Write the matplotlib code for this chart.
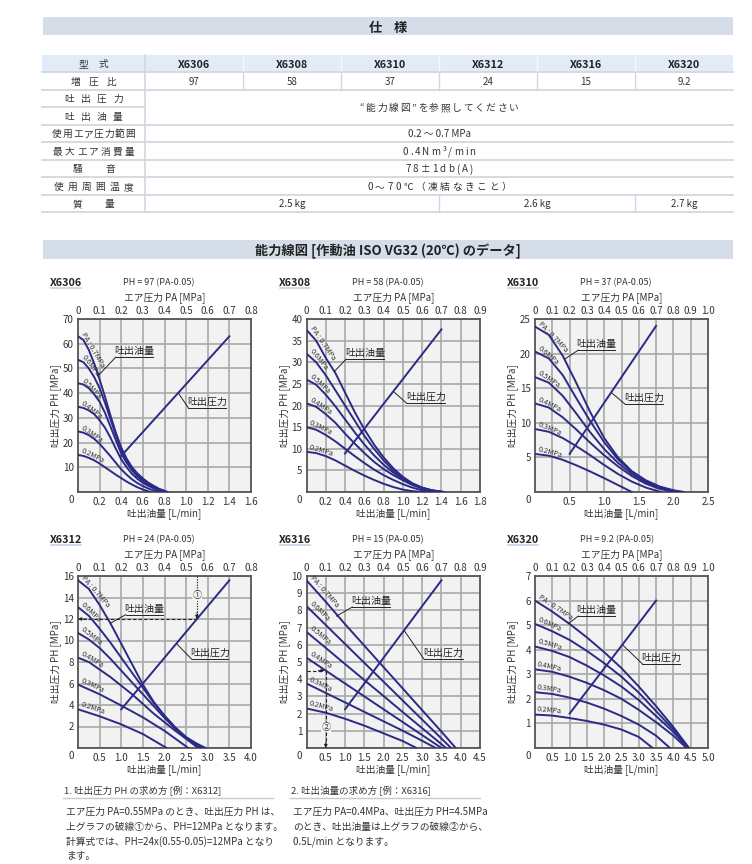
import numpy as np
import matplotlib
matplotlib.use("Agg")
import matplotlib.pyplot as plt
from matplotlib.patches import Rectangle

plt.rcParams['font.family'] = ['Noto Sans CJK JP', 'DejaVu Sans']
plt.rcParams['axes.unicode_minus'] = False

# ---------------------------------------------------------------- data
models = ["X6306", "X6308", "X6310", "X6312", "X6316", "X6320"]
boost_ratios = ["97", "58", "37", "24", "15", "9.2"]
masses = ["2.5 kg", "2.6 kg", "2.7 kg"]
pa_levels = [0.7, 0.6, 0.5, 0.4, 0.3, 0.2]
pa_labels = ["PA : 0.7MPa", "0.6MPa", "0.5MPa", "0.4MPa", "0.3MPa", "0.2MPa"]
line_pa = [0.2, 0.7]

# X6306
x6306_q = {
    0.7: [0, .05, .1, .15, .2, .25, .3, .35, .4, .45, .5, .55, .6, .65, .7, .75, .83],
    0.6: [0, .05, .1, .15, .2, .25, .3, .35, .4, .45, .5, .55, .6, .65, .7, .75, .82],
    0.5: [0, .05, .1, .15, .2, .25, .3, .35, .4, .45, .5, .55, .6, .65, .7, .75, .81],
    0.4: [0, .05, .1, .15, .2, .25, .3, .35, .4, .45, .5, .55, .6, .65, .7, .75, .80],
    0.3: [0, .05, .1, .15, .2, .25, .3, .35, .4, .45, .5, .55, .6, .65, .7, .76],
    0.2: [0, .05, .1, .15, .2, .25, .3, .35, .4, .45, .5, .55, .6, .67],
}
x6306_ph = {
    0.7: [63, 61.5, 57.5, 52, 45.5, 38.5, 31, 24, 18, 13.5, 10, 7.5, 5.5, 3.8, 2.5, 1.3, 0],
    0.6: [53.5, 52.5, 50, 46.5, 42, 36, 29.5, 23, 17, 12.8, 9.5, 7, 5, 3.5, 2.2, 1.1, 0],
    0.5: [44, 43.5, 42, 39.5, 36.5, 32, 26.5, 21, 15.5, 11.8, 8.7, 6.3, 4.5, 3.1, 1.9, 0.9, 0],
    0.4: [34.5, 34, 33, 31.5, 29, 26, 22, 17.5, 13.2, 10, 7.3, 5.3, 3.7, 2.5, 1.5, 0.7, 0],
    0.3: [24.5, 24, 23, 21.5, 19.5, 17, 14.5, 11.8, 9.2, 7, 5.1, 3.6, 2.4, 1.4, 0.6, 0],
    0.2: [15, 14.6, 13.8, 12.8, 11.5, 10, 8.5, 7, 5.6, 4.2, 3, 1.9, 1, 0],
}
x6306_line_ph = [14.6, 63.0]

# X6308
x6308_q = {
    0.7: [0, .1, .2, .3, .4, .5, .6, .7, .8, .9, 1.0, 1.1, 1.2, 1.3, 1.43],
    0.6: [0, .1, .2, .3, .4, .5, .6, .7, .8, .9, 1.0, 1.1, 1.2, 1.3, 1.42],
    0.5: [0, .1, .2, .3, .4, .5, .6, .7, .8, .9, 1.0, 1.1, 1.2, 1.3, 1.41],
    0.4: [0, .1, .2, .3, .4, .5, .6, .7, .8, .9, 1.0, 1.1, 1.2, 1.3, 1.40],
    0.3: [0, .1, .2, .3, .4, .5, .6, .7, .8, .9, 1.0, 1.1, 1.2, 1.33],
    0.2: [0, .1, .2, .3, .4, .5, .6, .7, .8, .9, 1.0, 1.1, 1.22],
}
x6308_ph = {
    0.7: [37.5, 35, 31, 27.5, 23, 18.5, 14.5, 11, 8, 5.5, 3.5, 2, 1, 0.4, 0],
    0.6: [32, 30, 27, 23.5, 20, 16.5, 13, 10, 7.3, 5, 3.2, 1.9, 1, 0.4, 0],
    0.5: [26, 24.8, 22.5, 19.8, 16.8, 13.8, 11, 8.5, 6.3, 4.5, 3, 1.8, 0.9, 0.35, 0],
    0.4: [20.5, 19.7, 18, 16, 13.5, 11.2, 9, 7, 5.3, 3.9, 2.7, 1.6, 0.8, 0.3, 0],
    0.3: [15, 14.4, 13.2, 11.7, 10, 8.3, 6.7, 5.2, 3.9, 2.8, 1.8, 1, 0.4, 0],
    0.2: [9.3, 9, 8.3, 7.3, 6.1, 4.9, 3.8, 2.8, 1.9, 1.15, 0.55, 0.2, 0],
}
x6308_line_ph = [8.9, 37.6]

# X6310
x6310_q = {
    0.7: [0, .2, .4, .6, .8, 1.0, 1.2, 1.4, 1.6, 1.8, 2.0, 2.15],
    0.6: [0, .2, .4, .6, .8, 1.0, 1.2, 1.4, 1.6, 1.8, 2.0, 2.12],
    0.5: [0, .2, .4, .6, .8, 1.0, 1.2, 1.4, 1.6, 1.8, 2.0, 2.08],
    0.4: [0, .2, .4, .6, .8, 1.0, 1.2, 1.4, 1.6, 1.8, 2.0],
    0.3: [0, .2, .4, .6, .8, 1.0, 1.2, 1.4, 1.6, 1.82],
    0.2: [0, .2, .4, .6, .8, 1.0, 1.2, 1.4],
}
x6310_ph = {
    0.7: [23.9, 22.7, 19.7, 15.7, 11.5, 7.8, 5, 3, 1.7, 0.8, 0.25, 0],
    0.6: [20.3, 19.3, 16.9, 13.5, 10.2, 7.2, 4.7, 2.9, 1.6, 0.7, 0.2, 0],
    0.5: [16.6, 15.8, 13.9, 11.3, 8.6, 6.2, 4.2, 2.6, 1.4, 0.6, 0.15, 0],
    0.4: [12.8, 12.2, 10.8, 9, 7.1, 5.3, 3.7, 2.3, 1.2, 0.45, 0],
    0.3: [9.1, 8.7, 7.8, 6.6, 5.3, 3.9, 2.6, 1.5, 0.65, 0],
    0.2: [5.5, 5.25, 4.65, 3.85, 2.95, 2.0, 1.0, 0],
}
x6310_line_ph = [5.5, 24.0]

# X6312
x6312_q = {
    0.7: [0, .25, .5, .75, 1, 1.25, 1.5, 1.75, 2, 2.25, 2.5, 2.75, 2.95],
    0.6: [0, .25, .5, .75, 1, 1.25, 1.5, 1.75, 2, 2.25, 2.5, 2.75, 2.9],
    0.5: [0, .25, .5, .75, 1, 1.25, 1.5, 1.75, 2, 2.25, 2.5, 2.7, 2.85],
    0.4: [0, .25, .5, .75, 1, 1.25, 1.5, 1.75, 2, 2.25, 2.5, 2.78],
    0.3: [0, .5, 1, 1.5, 2, 2.55],
    0.2: [0, .5, 1, 1.5, 2.05],
}
x6312_ph = {
    0.7: [15.6, 14.8, 13.3, 11.6, 9.7, 7.8, 5.9, 4.3, 3, 1.9, 1.0, 0.4, 0],
    0.6: [13.1, 12.3, 11.1, 9.8, 8.4, 7, 5.6, 4.2, 3, 1.9, 1, 0.35, 0],
    0.5: [10.7, 10.1, 9.3, 8.3, 7.2, 6.1, 5, 3.9, 2.8, 1.8, 0.95, 0.35, 0],
    0.4: [8.4, 8, 7.3, 6.6, 5.8, 5, 4.1, 3.2, 2.4, 1.6, 0.85, 0],
    0.3: [5.9, 5.0, 3.95, 2.85, 1.6, 0],
    0.2: [3.6, 2.95, 2.2, 1.3, 0],
}
x6312_line_ph = [3.6, 15.6]

# X6316
x6316_q = {
    0.7: [0, .5, 1, 1.5, 2, 2.5, 3, 3.5, 3.87],
    0.6: [0, .5, 1, 1.5, 2, 2.5, 3, 3.5, 3.75],
    0.5: [0, .5, 1, 1.5, 2, 2.5, 3, 3.62],
    0.4: [0, .5, 1, 1.5, 2, 2.5, 3, 3.5],
    0.3: [0, .5, 1, 1.5, 2, 2.5, 3, 3.35],
    0.2: [0, .5, 1, 1.5, 2, 2.5, 2.85],
}
x6316_ph = {
    0.7: [9.75, 8.5, 7.2, 5.95, 4.7, 3.45, 2.2, 0.95, 0],
    0.6: [8.25, 7.15, 6.05, 4.95, 3.85, 2.75, 1.65, 0.55, 0],
    0.5: [6.75, 5.82, 4.88, 3.95, 3.02, 2.08, 1.15, 0],
    0.4: [5.25, 4.5, 3.75, 3.0, 2.25, 1.5, 0.75, 0],
    0.3: [3.75, 3.2, 2.65, 2.1, 1.55, 1.0, 0.42, 0],
    0.2: [2.3, 2.05, 1.7, 1.3, 0.85, 0.4, 0],
}
x6316_line_ph = [2.25, 9.75]

# X6320
x6320_q = {
    0.7: [0, .5, 1, 1.5, 2, 2.5, 3, 3.5, 4, 4.45],
    0.6: [0, .5, 1, 1.5, 2, 2.5, 3, 3.5, 4, 4.45],
    0.5: [0, .5, 1, 1.5, 2, 2.5, 3, 3.5, 4, 4.42],
    0.4: [0, .5, 1, 1.5, 2, 2.5, 3, 3.5, 4, 4.38],
    0.3: [0, .5, 1, 1.5, 2, 2.5, 3, 3.5, 3.9],
    0.2: [0, .5, 1, 1.5, 2, 2.5, 3, 3.4],
}
x6320_ph = {
    0.7: [6, 5.55, 5.05, 4.5, 3.9, 3.25, 2.5, 1.7, 0.85, 0],
    0.6: [5.05, 4.75, 4.4, 3.95, 3.45, 2.9, 2.25, 1.5, 0.75, 0],
    0.5: [4.13, 3.95, 3.7, 3.35, 2.95, 2.5, 1.95, 1.3, 0.65, 0],
    0.4: [3.2, 3.1, 2.9, 2.65, 2.35, 2.0, 1.55, 1.05, 0.5, 0],
    0.3: [2.27, 2.2, 2.05, 1.85, 1.6, 1.3, 0.95, 0.5, 0],
    0.2: [1.36, 1.32, 1.22, 1.1, 0.95, 0.75, 0.45, 0],
}
x6320_line_ph = [1.4, 6.0]

# worked examples
ex1_pa, ex1_ph = 0.55, 12.0     # X6312
ex2_pa, ex2_ph, ex2_q = 0.4, 4.5, 0.5   # X6316

# ---------------------------------------------------------------- figure
W, H = 752, 864
fig = plt.figure(figsize=(W / 100, H / 100), dpi=100)
fig.patch.set_facecolor('white')
bg = fig.add_axes([0, 0, 1, 1])
bg.set_xlim(0, W)
bg.set_ylim(H, 0)
bg.axis('off')
renderer = fig.canvas.get_renderer()

TXT = '#333333'
DARK = '#222222'
NAVY = '#2b2b86'
GRID = '#a8a8a8'
BAND = '#d5dde8'
HEAD = '#e2ecf6'
RULE = '#d6d6e2'


def spaced(x, y, s, gap, size=7.0, color=TXT, weight='normal'):
    arts, widths = [], []
    for ch in s:
        a = bg.text(0, y, ch, fontsize=size, color=color, weight=weight,
                    ha='left', va='center_baseline')
        arts.append(a)
        if ch == ' ':
            widths.append(size * 1.389 * 0.25)
        else:
            widths.append(a.get_window_extent(renderer).width)
    total = sum(widths) + gap * (len(s) - 1)
    cx = x - total / 2
    for a, w in zip(arts, widths):
        a.set_x(cx)
        cx += w + gap


# ---- header band 1
bg.add_patch(Rectangle((43, 17), 690, 18, color=BAND, lw=0))
spaced(388, 26.5, '仕様', 12, size=9.5, color=DARK, weight='bold')

# ---- spec table
XL, XLAB, XR = 42, 145, 733
CW = (XR - XLAB) / 6
rows_y = [55, 72, 89.5, 107, 124.5, 142, 159.5, 177, 194.5, 212]
bg.add_patch(Rectangle((XL, rows_y[0]), XR - XL, rows_y[1] - rows_y[0], color=HEAD, lw=0))
for i, yy in enumerate(rows_y[1:], start=1):
    if i == 3:
        bg.plot([XL, XLAB], [yy, yy], color=RULE, lw=1.3)
    else:
        bg.plot([XL, XR], [yy, yy], color=RULE, lw=1.3)
bg.plot([XLAB, XLAB], [rows_y[0], rows_y[-1]], color=RULE, lw=1.2)
for k in range(1, 6):
    bg.plot([XLAB + k * CW] * 2, [rows_y[0], rows_y[1]], color='#f4f7fb', lw=1.0)
    bg.plot([XLAB + k * CW] * 2, [rows_y[1], rows_y[2]], color=RULE, lw=1.0)
for k in (3, 5):
    bg.plot([XLAB + k * CW] * 2, [rows_y[8], rows_y[9]], color=RULE, lw=1.0)

lab_cx = (XL + XLAB) / 2
row_labels = [("型式", 10), ("増圧比", 8), ("吐出圧力", 6.5), ("吐出油量", 6.5),
              ("使用エア圧力範囲", 0.8), ("最大エア消費量", 2.2), ("騒音", 23),
              ("使用周囲温度", 4.3), ("質量", 22)]
for i, (lab, gap) in enumerate(row_labels):
    yc = (rows_y[i] + rows_y[i + 1]) / 2
    spaced(lab_cx, yc, lab, gap, size=7)

for k, (m, r) in enumerate(zip(models, boost_ratios)):
    cx = XLAB + (k + 0.5) * CW
    bg.text(cx, (rows_y[0] + rows_y[1]) / 2, m, ha='center', va='center_baseline',
            fontsize=7.8, weight='bold', color=DARK)
    bg.text(cx, (rows_y[1] + rows_y[2]) / 2, r, ha='center', va='center_baseline',
            fontsize=7, color=TXT)

val_cx = (XLAB + XR) / 2
spaced(val_cx, rows_y[3], '“能力線図”を参照してください', 1.6, size=7)
bg.text(val_cx, (rows_y[4] + rows_y[5]) / 2, '0.2 ～ 0.7 MPa', ha='center',
        va='center_baseline', fontsize=7, color=TXT)
spaced(val_cx, (rows_y[5] + rows_y[6]) / 2, '0.4Nm³/min', 2.0, size=7)
spaced(val_cx, (rows_y[6] + rows_y[7]) / 2, '78±1db(A)', 2.2, size=7)
spaced(val_cx, (rows_y[7] + rows_y[8]) / 2, '0～70℃（凍結なきこと）', 2.5, size=7)
mass_centers = [(XLAB + XLAB + 3 * CW) / 2, (XLAB + 3 * CW + XLAB + 5 * CW) / 2,
                (XLAB + 5 * CW + XR) / 2]
for cx, m in zip(mass_centers, masses):
    bg.text(cx, (rows_y[8] + rows_y[9]) / 2, m, ha='center', va='center_baseline',
            fontsize=7, color=TXT)

# ---- header band 2
bg.add_patch(Rectangle((43, 240), 690, 19, color=BAND, lw=0))
bg.text(388, 249.5, '能力線図 [作動油 ISO VG32 (20℃) のデータ]', ha='center',
        va='center_baseline', fontsize=9.5, weight='bold', color=DARK)


# ---------------------------------------------------------------- plots
def fig_rect(l, t, r, b):
    return [l / W, 1 - b / H, (r - l) / W, (b - t) / H]


def draw_plot(name, ratio, rect, qmax, pamax, ymax, ystep, qstep,
              cq, cph, lph, call_flow, call_pres):
    l, t, r, b = rect
    ax = fig.add_axes(fig_rect(l, t, r, b))
    ax.set_facecolor('#f2f2f2')
    ax.set_xlim(0, qmax)
    ax.set_ylim(0, ymax)
    yt = np.round(np.arange(0, ymax + 1e-9, ystep), 3)
    ax.set_yticks(yt)
    ax.set_yticklabels(['' if v == 0 else f'{v:g}' for v in yt])
    qt = np.round(np.arange(qstep, qmax + 1e-9, qstep), 3)
    ax.set_xticks(qt)
    ax.set_xticklabels([f'{v:.1f}' for v in qt])
    ax.grid(axis='y', color=GRID, lw=1.2)
    ax.set_axisbelow(True)
    for k in range(1, int(round(pamax / 0.1))):
        ax.axvline(k * 0.1 * qmax / pamax, color=GRID, lw=1.2, zorder=0.5)
    ax.tick_params(length=0, labelsize=7, colors=TXT, pad=3)
    ax.tick_params(axis='x', pad=3.5)
    for s in ax.spines.values():
        s.set_color('#555555')
        s.set_linewidth(1.3)
    ax2 = ax.twiny()
    ax2.set_xlim(0, pamax)
    pt = np.round(np.arange(0, pamax + 1e-9, 0.1), 1)
    ax2.set_xticks(pt)
    ax2.set_xticklabels(['0' if v == 0 else f'{v:.1f}' for v in pt])
    ax2.tick_params(length=0, labelsize=7, colors=TXT, pad=2.5)
    for s in ax2.spines.values():
        s.set_visible(False)

    for pa, lab in zip(pa_levels, pa_labels):
        q, ph = cq[pa], cph[pa]
        ax.plot(q, ph, color=NAVY, lw=1.4, zorder=3)
        P = ax.transData.transform(np.column_stack([q, ph]))
        d = np.hypot(P[:, 0] - P[0, 0], P[:, 1] - P[0, 1])
        i = int(np.argmax(d > 30)) if np.any(d > 30) else len(q) - 1
        ang = np.degrees(np.arctan2(P[i, 1] - P[0, 1], P[i, 0] - P[0, 0]))
        ax.annotate(lab, xy=(q[0], ph[0]), xytext=(1.2, 0.8), textcoords='offset points',
                    rotation=ang, rotation_mode='anchor', ha='left', va='bottom',
                    fontsize=5.3, color=TXT, zorder=4)
    ax2.plot(line_pa, lph, color=NAVY, lw=1.4, zorder=3)

    for (txt, ux0, ux1, uy, px, py) in (("吐出油量",) + call_flow, ("吐出圧力",) + call_pres):
        ax.plot([ux0, ux1], [uy, uy], color=DARK, lw=0.7, zorder=5)
        ax.plot([ux0, px], [uy, py], color=DARK, lw=0.7, zorder=5)
        ax.annotate(txt, xy=((ux0 + ux1) / 2, uy), xytext=(0, 0.8), textcoords='offset points',
                    ha='center', va='bottom', fontsize=7.2, color=DARK, zorder=5)

    # surrounding texts
    bg.text(l - 28, t - 37, name, ha='left', va='center_baseline', fontsize=7.8,
            weight='bold', color=DARK)
    bg.plot([l - 27, l + 3], [t - 31, t - 31], color='#c5d3e6', lw=1.2)
    bg.text(l + 45, t - 37, f'PH = {ratio} (PA-0.05)', ha='left', va='center_baseline',
            fontsize=6.5, color=TXT)
    bg.text((l + r) / 2, t - 23, 'エア圧力 PA [MPa]', ha='center', va='center_baseline',
            fontsize=7, color=TXT)
    bg.text((l + r) / 2, b + 20.5, '吐出油量 [L/min]', ha='center', va='center_baseline',
            fontsize=7, color=TXT)
    bg.text(l - 22, (t + b) / 2, '吐出圧力 PH [MPa]', rotation=90, ha='center',
            va='center', fontsize=7, color=TXT)
    bg.text(l - 7, b + 7, '0', ha='center', va='center_baseline', fontsize=7, color=TXT)
    return ax, ax2


R1 = (319, 492)
R2 = (576, 748)
C = [(78, 251), (306.5, 480), (535, 708)]

draw_plot("X6306", boost_ratios[0], (C[0][0], R1[0], C[0][1], R1[1]), 1.6, 0.8, 70, 10, 0.2,
          x6306_q, x6306_ph, x6306_line_ph,
          (0.35, 0.69, 54.6, 0.185, 47.0), (1.02, 1.37, 34.1, 0.925, 40.2))
draw_plot("X6308", boost_ratios[1], (C[1][0], R1[0], C[1][1], R1[1]), 1.8, 0.9, 40, 5, 0.2,
          x6308_q, x6308_ph, x6308_line_ph,
          (0.41, 0.80, 30.7, 0.29, 27.9), (1.04, 1.44, 20.5, 0.90, 23.3))
draw_plot("X6310", boost_ratios[2], (C[2][0], R1[0], C[2][1], R1[1]), 2.5, 1.0, 25, 5, 0.5,
          x6310_q, x6310_ph, x6310_line_ph,
          (0.625, 1.15, 20.5, 0.43, 19.2), (1.30, 1.85, 12.7, 1.10, 14.4))
ax4, ax4b = draw_plot("X6312", "24", (C[0][0], R2[0], C[0][1], R2[1]), 4.0, 0.8, 16, 2, 0.5,
                      x6312_q, x6312_ph, x6312_line_ph,
                      (1.10, 1.97, 12.4, 0.75, 11.6), (2.63, 3.47, 8.25, 2.28, 9.7))
ax5, ax5b = draw_plot("X6316", boost_ratios[4], (C[1][0], R2[0], C[1][1], R2[1]), 4.5, 0.9, 10, 1, 0.5,
                      x6316_q, x6316_ph, x6316_line_ph,
                      (1.19, 2.16, 8.2, 0.78, 7.67), (3.05, 4.05, 5.16, 2.53, 6.84))
draw_plot("X6320", boost_ratios[5], (C[2][0], R2[0], C[2][1], R2[1]), 5.0, 1.0, 7, 1, 0.5,
          x6320_q, x6320_ph, x6320_line_ph,
          (1.25, 2.31, 5.37, 0.96, 5.06), (3.10, 4.18, 3.43, 2.53, 4.2))

AR = dict(arrowstyle='-|>', color=DARK, lw=0.6, mutation_scale=5, shrinkA=0, shrinkB=0)
DASH = dict(color=DARK, lw=0.8, ls=(0, (3, 2)), zorder=4)
DOT = dict(color=DARK, lw=0.8, ls=(0, (1.2, 1.2)), zorder=4)

# example 1 on X6312
ax4b.plot([ex1_pa, ex1_pa], [16, ex1_ph + 0.4], **DOT)
ax4b.annotate('', xy=(ex1_pa, ex1_ph), xytext=(ex1_pa, ex1_ph + 0.6), arrowprops=AR, zorder=5)
ax4b.text(ex1_pa, 14.15, '①', ha='center', va='center', fontsize=6.5, color=TXT, zorder=6,
          bbox=dict(fc='#f2f2f2', ec='none', pad=0.2))
ax4.plot([ex1_pa * 5, 0.12], [ex1_ph, ex1_ph], **DASH)
ax4.annotate('', xy=(0.0, ex1_ph), xytext=(0.2, ex1_ph), arrowprops=AR, zorder=5)

# example 2 on X6316
ax5.plot([0, ex2_q - 0.06], [ex2_ph, ex2_ph], **DASH)
ax5.annotate('', xy=(ex2_q - 0.03, ex2_ph), xytext=(ex2_q - 0.2, ex2_ph), arrowprops=AR, zorder=5)
ax5.plot([ex2_q, ex2_q], [ex2_ph, 0.2], **DASH)
ax5.annotate('', xy=(ex2_q, 0.0), xytext=(ex2_q, 0.35), arrowprops=AR, zorder=5)
ax5.text(ex2_q, 1.22, '②', ha='center', va='center', fontsize=6.5, color=TXT, zorder=6,
         bbox=dict(fc='#f2f2f2', ec='none', pad=0.2))

# ---------------------------------------------------------------- notes
note1_head = '1. 吐出圧力 PH の求め方 [例：X6312]'
note1_body = ['エア圧力 PA=0.55MPa のとき、吐出圧力 PH は、',
              '上グラフの破線①から、PH=12MPa となります。',
              '計算式では、PH=24x(0.55-0.05)=12MPa となり',
              'ます。']
note2_head = '2. 吐出油量の求め方 [例：X6316]'
note2_body = ['エア圧力 PA=0.4MPa、吐出圧力 PH=4.5MPa',
              'のとき、吐出油量は上グラフの破線②から、',
              '0.5L/min となります。']

for (hx, head, body, ul) in ((64, note1_head, note1_body, (63, 273)),
                             (291, note2_head, note2_body, (290, 480))):
    bg.text(hx, 790, head, ha='left', va='center_baseline', fontsize=6.8, color=TXT)
    bg.plot(ul, [798, 798], color='#c8c8d2', lw=1.0)
    for j, line in enumerate(body):
        bg.text(hx + 2, 811 + j * 14.7, line, ha='left', va='center_baseline',
                fontsize=7, color=TXT)

fig.savefig('out.png', dpi=100)
